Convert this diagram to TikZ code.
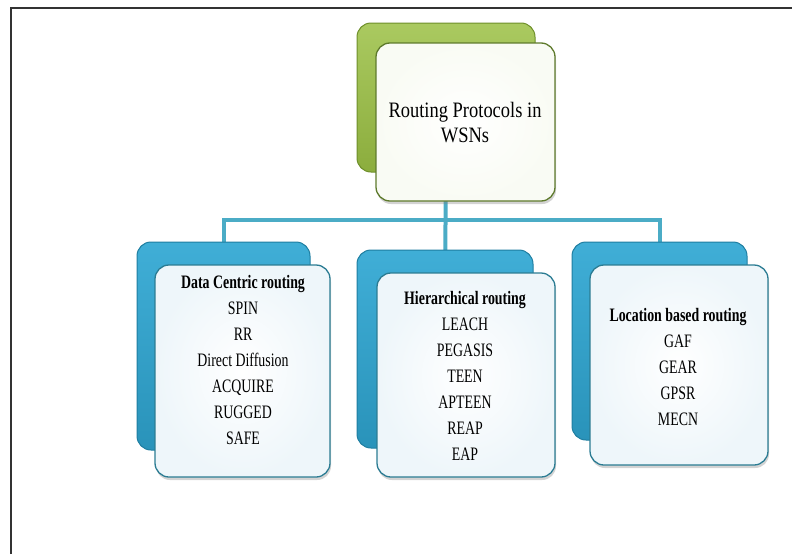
\documentclass[tikz,border=0pt]{standalone}
\usepackage{fontspec}
\setmainfont[FakeStretch=0.73]{Liberation Serif}
\newfontfamily\rootfont[FakeStretch=0.84]{Liberation Serif}
\usetikzlibrary{shadows,backgrounds}
\definecolor{leafgreen}{HTML}{9BC044}
\definecolor{leafline}{HTML}{6E8F2A}
\definecolor{seablue}{HTML}{2FA7D3}
\definecolor{sealine}{HTML}{1E7EA1}
\definecolor{frontline}{HTML}{2B7C93}
\definecolor{frontfill}{HTML}{EEF6FA}
\definecolor{rootline}{HTML}{5E7A2C}
\definecolor{linkblue}{HTML}{4BACC6}
\tikzset{
  backbox/.style={rounded corners=14pt,inner sep=0pt,draw=sealine,line width=1pt,
    top color=seablue!92!white,bottom color=seablue!88!black},
  frontbox/.style={rounded corners=14pt,inner sep=0pt,draw=frontline,line width=1.3pt,
    inner color=white,outer color=frontfill,
    drop shadow={shadow xshift=1pt,shadow yshift=-3pt,opacity=0.35}},
  listtext/.style={align=center,font=\fontsize{19}{26}\selectfont},
  link/.style={draw=linkblue,line width=4pt}
}
\begin{document}
\begin{tikzpicture}[x=1pt,y=-1pt]
\useasboundingbox (0,0) rectangle (792,554);
\draw[line width=2pt,black!80] (10.5,554)--(10.5,7.5)--(792,7.5);

\node[backbox,draw=leafline,top color=leafgreen!85!white,bottom color=leafgreen!90!black,
  minimum width=178pt,minimum height=149pt] (rootback) at (446,97.5) {};
\node[frontbox,draw=rootline,outer color=leafgreen!6!white,
  minimum width=179pt,minimum height=158pt] (rootfront) at (465.5,122) {};
\node[align=center,font=\rootfont\fontsize{22}{25}\selectfont] (roottext) at (465,122.5)
  {Routing Protocols in\\WSNs};

\node[backbox,minimum width=173pt,minimum height=208pt] (dcback) at (223.5,346) {};
\node[frontbox,minimum width=175pt,minimum height=212pt] (dcfront) at (242.5,371) {};
\node[listtext] (dctext) at (243,360)
  {\textbf{Data Centric routing}\\SPIN\\RR\\Direct Diffusion\\ACQUIRE\\RUGGED\\SAFE};

\node[backbox,minimum width=176pt,minimum height=198pt] (hrback) at (445,349) {};
\node[frontbox,minimum width=178pt,minimum height=204pt] (hrfront) at (466,375) {};
\node[listtext] (hrtext) at (465,376)
  {\textbf{Hierarchical routing}\\LEACH\\PEGASIS\\TEEN\\APTEEN\\REAP\\EAP};

\node[backbox,minimum width=175pt,minimum height=198pt] (lbback) at (659.5,341) {};
\node[frontbox,minimum width=178pt,minimum height=200pt] (lbfront) at (679,365) {};
\node[listtext] (lbtext) at (678,366.5)
  {\textbf{Location based routing}\\GAF\\GEAR\\GPSR\\MECN};

\coordinate (hub) at (445,220);
\begin{scope}[on background layer]
\draw[link] (rootback.center)--(hrback.center);
\draw[link] (dcback.center)|-(hub)-|(lbback.center);
\end{scope}
\end{tikzpicture}
\end{document}
